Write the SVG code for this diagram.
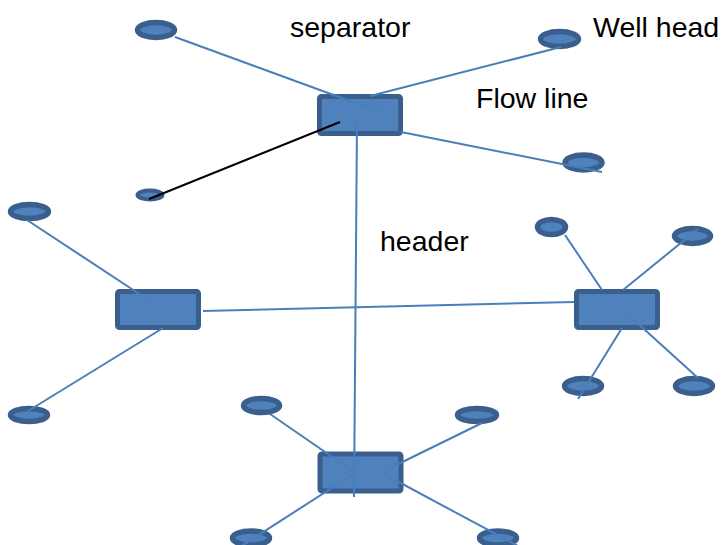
<svg xmlns="http://www.w3.org/2000/svg" width="724" height="545" viewBox="0 0 724 545">
  <style>
    .box { fill: #4f81bd; stroke: #3a5f8c; stroke-width: 5; }
    .well { fill: #4f81bd; stroke: #3a5f8c; stroke-width: 5.5; }
    .pipe { stroke: #4a7ebb; stroke-width: 2; fill: none; }
    .flow { stroke: #000000; stroke-width: 2; fill: none; }
    .label { font-family: "Liberation Sans", Arial, sans-serif; font-size: 28.5px; fill: #000000; }
  </style>
  <rect width="724" height="545" fill="#ffffff"/>

  <!-- separators -->
  <g id="separator-top"><rect class="box" x="319.5" y="96.5" width="81" height="37" rx="2"/></g>
  <g id="separator-left"><rect class="box" x="117.5" y="291.5" width="81" height="36" rx="2"/></g>
  <g id="separator-right"><rect class="box" x="576.5" y="291.5" width="81" height="36" rx="2"/></g>
  <g id="separator-bottom"><rect class="box" x="320" y="454" width="81" height="37" rx="2"/></g>

  <!-- well heads -->
  <g id="well-1"><ellipse class="well" cx="156" cy="30" rx="18.5" ry="7.5"/></g>
  <g id="well-2"><ellipse class="well" cx="559.5" cy="39" rx="19" ry="7.5"/></g>
  <g id="well-3"><ellipse class="well" cx="583.5" cy="162.5" rx="18.5" ry="7.5"/></g>
  <g id="well-4"><ellipse class="well" cx="150" cy="195" rx="12.5" ry="4.5" style="stroke-width:4"/></g>
  <g id="well-5"><ellipse class="well" cx="29.5" cy="211.5" rx="19" ry="7"/></g>
  <g id="well-6"><ellipse class="well" cx="29" cy="415" rx="18.5" ry="6.5"/></g>
  <g id="well-7"><ellipse class="well" cx="551.5" cy="227" rx="14" ry="7.5"/></g>
  <g id="well-8"><ellipse class="well" cx="692.5" cy="236" rx="18" ry="7.5"/></g>
  <g id="well-9"><ellipse class="well" cx="583" cy="386" rx="18.5" ry="7.5"/></g>
  <g id="well-10"><ellipse class="well" cx="694" cy="386" rx="18.5" ry="7.5"/></g>
  <g id="well-11"><ellipse class="well" cx="261.5" cy="405.5" rx="18" ry="7"/></g>
  <g id="well-12"><ellipse class="well" cx="477" cy="415" rx="19.5" ry="6.5"/></g>
  <g id="well-13"><ellipse class="well" cx="251" cy="538" rx="18.5" ry="7"/></g>
  <g id="well-14"><ellipse class="well" cx="498" cy="538" rx="18.5" ry="7"/></g>

  <!-- flow lines and headers -->
  <g id="connectors">
    <line class="pipe" x1="175" y1="37" x2="380" y2="112"/>
    <line class="pipe" x1="370" y1="96" x2="561" y2="47"/>
    <line class="pipe" x1="401" y1="132" x2="602" y2="172"/>
    <line class="flow" x1="149" y1="199" x2="340" y2="122"/>
    <line class="pipe" x1="357" y1="123" x2="354" y2="497"/>
    <line class="pipe" x1="203" y1="311" x2="574" y2="302"/>
    <line class="pipe" x1="27" y1="220" x2="150" y2="301"/>
    <line class="pipe" x1="163" y1="328" x2="28" y2="411"/>
    <line class="pipe" x1="565" y1="235" x2="602" y2="290"/>
    <line class="pipe" x1="698" y1="229" x2="623" y2="290"/>
    <line class="pipe" x1="622" y1="328" x2="578" y2="399"/>
    <line class="pipe" x1="623" y1="310" x2="698" y2="378"/>
    <line class="pipe" x1="270" y1="414" x2="357" y2="474"/>
    <line class="pipe" x1="355" y1="473" x2="240" y2="547"/>
    <line class="pipe" x1="482" y1="423" x2="382" y2="472"/>
    <line class="pipe" x1="382" y1="473" x2="518" y2="546"/>
  </g>

  <!-- labels -->
  <g id="labels">
    <text class="label" x="290" y="37">separator</text>
    <text class="label" x="593" y="37">Well head</text>
    <text class="label" x="476" y="108">Flow line</text>
    <text class="label" x="380" y="251">header</text>
  </g>
</svg>
